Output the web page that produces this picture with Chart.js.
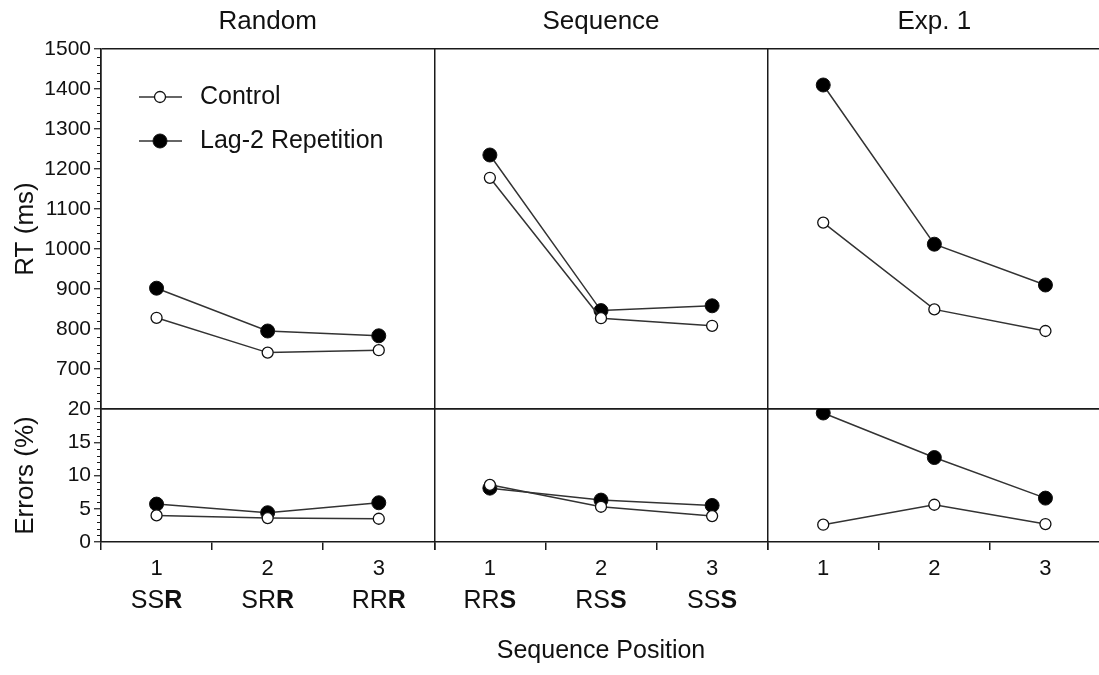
<!DOCTYPE html>
<html>
<head>
<meta charset="utf-8">
<script src="https://cdn.jsdelivr.net/npm/chart.js@4.4.1/dist/chart.umd.min.js"></script>
<style>
  html, body { margin: 0; padding: 0; background: #fff; overflow: hidden; }
  #wrap { width: 1109px; height: 675px; }
</style>
</head>
<body>
<div id="wrap"><canvas id="c"></canvas></div>
<script>
const FONT = '"Liberation Sans", Arial, Helvetica, sans-serif';
const LINE = '#1a1a1a';

// panels and categories
const panels = ['Random', 'Sequence', 'Exp. 1'];
const positions = ['1', '2', '3'];
const sequenceCodes = [['SSR', 'SRR', 'RRR'], ['RRS', 'RSS', 'SSS'], []];

// RT (ms)
const rtControlRandom = [828, 741, 747];
const rtLagRandom     = [902, 795, 783];
const rtControlSeq    = [1178, 827, 808];
const rtLagSeq        = [1235, 846, 858];
const rtControlExp1   = [1066, 849, 795];
const rtLagExp1       = [1410, 1012, 910];

// Errors (%)
const errControlRandom = [4.0, 3.6, 3.5];
const errLagRandom     = [5.7, 4.4, 5.9];
const errControlSeq    = [8.6, 5.3, 3.9];
const errLagSeq        = [8.1, 6.3, 5.5];
const errControlExp1   = [2.6, 5.6, 2.7];
const errLagExp1       = [19.4, 12.7, 6.6];

// axis ranges
const rtMin = 600, rtMax = 1500, rtStep = 100, rtMinor = 20;
const errMin = 0, errMax = 20, errStep = 5, errMinor = 1;

function makeSet(label, data, xId, yId, filled) {
  return {
    label, data, xAxisID: xId, yAxisID: yId,
    borderColor: '#333', borderWidth: 1.5,
    pointBackgroundColor: filled ? '#000' : '#fff',
    pointBorderColor: '#111',
    pointBorderWidth: filled ? 1 : 1.3,
    pointRadius: filled ? 7 : 5.5,
    tension: 0, fill: false
  };
}

const datasets = [
  makeSet('Control', rtControlRandom, 'x1', 'yRT', false),
  makeSet('Lag-2 Repetition', rtLagRandom, 'x1', 'yRT', true),
  makeSet('Control', rtControlSeq, 'x2', 'yRT', false),
  makeSet('Lag-2 Repetition', rtLagSeq, 'x2', 'yRT', true),
  makeSet('Control', rtControlExp1, 'x3', 'yRT', false),
  makeSet('Lag-2 Repetition', rtLagExp1, 'x3', 'yRT', true),
  makeSet('Control', errControlRandom, 'x1', 'yErr', false),
  makeSet('Lag-2 Repetition', errLagRandom, 'x1', 'yErr', true),
  makeSet('Control', errControlSeq, 'x2', 'yErr', false),
  makeSet('Lag-2 Repetition', errLagSeq, 'x2', 'yErr', true),
  makeSet('Control', errControlExp1, 'x3', 'yErr', false),
  makeSet('Lag-2 Repetition', errLagExp1, 'x3', 'yErr', true)
];

function xScale(i) {
  return {
    type: 'category', labels: positions, position: 'bottom', stack: 'panels', offset: true,
    grid: {
      offset: true, drawOnChartArea: true, lineWidth: 1.5,
      color: c => c.index === 0 ? LINE : 'transparent',
      tickColor: LINE, tickLength: 8, tickWidth: 1.5
    },
    border: { display: true, color: LINE, width: 1.5 },
    ticks: { color: '#111', font: { family: FONT, size: 22 }, padding: 6, maxRotation: 0, autoSkip: false },
    title: i === 1
      ? { display: true, text: 'Sequence Position', color: '#111', font: { family: FONT, size: 25 }, padding: { top: 0, bottom: 9 } }
      : { display: false },
    afterFit: s => { s.height = 133; }
  };
}

function yScale(min, max, step, weight, title, edges) {
  return {
    type: 'linear', position: 'left', stack: 'rows', stackWeight: weight, min, max,
    ticks: {
      stepSize: step, autoSkip: false, color: '#111', font: { family: FONT, size: 21 }, padding: 3,
      callback: v => v === 600 && min === 600 ? '' : v
    },
    grid: {
      lineWidth: 1.5,
      color: c => c.tick && edges.includes(c.tick.value) ? LINE : 'transparent',
      tickColor: c => c.tick && c.tick.value === 600 && min === 600 ? 'transparent' : LINE,
      tickLength: 7, tickWidth: 1.2
    },
    border: { display: true, color: LINE, width: 1.5 },
    title: { display: true, text: title, color: '#111', font: { family: FONT, size: 26 }, padding: { top: 10, bottom: 0 } },
    afterFit: s => { s.width = 101; }
  };
}

function drawMixed(ctx, text, x, y) {
  const head = text.slice(0, -1), tail = text.slice(-1);
  ctx.font = '25px ' + FONT;
  const w1 = ctx.measureText(head).width;
  ctx.font = 'bold 25px ' + FONT;
  const w2 = ctx.measureText(tail).width;
  let left = x - (w1 + w2) / 2;
  ctx.textAlign = 'left';
  ctx.font = '25px ' + FONT;
  ctx.fillText(head, left, y);
  ctx.font = 'bold 25px ' + FONT;
  ctx.fillText(tail, left + w1, y);
}

const decor = {
  id: 'decor',
  afterDraw(chart) {
    const ctx = chart.ctx;
    const xs = ['x1', 'x2', 'x3'].map(id => chart.scales[id]);
    ctx.save();
    ctx.fillStyle = '#111';
    ctx.textBaseline = 'middle';

    // panel titles
    ctx.textAlign = 'center';
    ctx.font = '26px ' + FONT;
    xs.forEach((s, i) => ctx.fillText(panels[i], (s.left + s.right) / 2, 22));

    // sequence codes, last letter bold
    xs.forEach((s, i) => {
      sequenceCodes[i].forEach((code, j) => drawMixed(ctx, code, s.getPixelForTick(j), 601));
    });

    // minor ticks on y axes
    ctx.strokeStyle = LINE;
    ctx.lineWidth = 1;
    [['yRT', rtMin, rtMax, rtMinor, rtStep], ['yErr', errMin, errMax, errMinor, errStep]].forEach(([id, lo, hi, mn, mj]) => {
      const s = chart.scales[id];
      for (let v = lo; v <= hi; v += mn) {
        if (v % mj === 0) continue;
        const y = Math.round(s.getPixelForValue(v)) + 0.5;
        ctx.beginPath();
        ctx.moveTo(s.right - 4, y);
        ctx.lineTo(s.right, y);
        ctx.stroke();
      }
    });

    // legend
    const items = [chart.data.datasets[0], chart.data.datasets[1]];
    items.forEach((ds, k) => {
      const y = k === 0 ? 97 : 141;
      ctx.strokeStyle = ds.borderColor;
      ctx.lineWidth = 1.5;
      ctx.beginPath();
      ctx.moveTo(139, y);
      ctx.lineTo(182, y);
      ctx.stroke();
      ctx.beginPath();
      ctx.arc(160, y, ds.pointRadius, 0, Math.PI * 2);
      ctx.fillStyle = ds.pointBackgroundColor;
      ctx.fill();
      ctx.lineWidth = ds.pointBorderWidth;
      ctx.strokeStyle = ds.pointBorderColor;
      ctx.stroke();
      ctx.fillStyle = '#111';
      ctx.textAlign = 'left';
      ctx.font = '25px ' + FONT;
      ctx.fillText(ds.label, 200, y);
    });
    ctx.restore();
  }
};

new Chart(document.getElementById('c'), {
  type: 'line',
  data: { datasets },
  options: {
    responsive: true, maintainAspectRatio: false, animation: false,
    layout: { padding: { top: 49, left: 0, right: 0, bottom: 0 } },
    plugins: { legend: { display: false }, tooltip: { enabled: false } },
    scales: {
      x1: xScale(0), x2: xScale(1), x3: xScale(2),
      yErr: yScale(errMin, errMax, errStep, 133, 'Errors (%)', [errMax]),
      yRT: yScale(rtMin, rtMax, rtStep, 360, 'RT (ms)', [rtMin, rtMax])
    }
  },
  plugins: [decor]
});
</script>
</body>
</html>
